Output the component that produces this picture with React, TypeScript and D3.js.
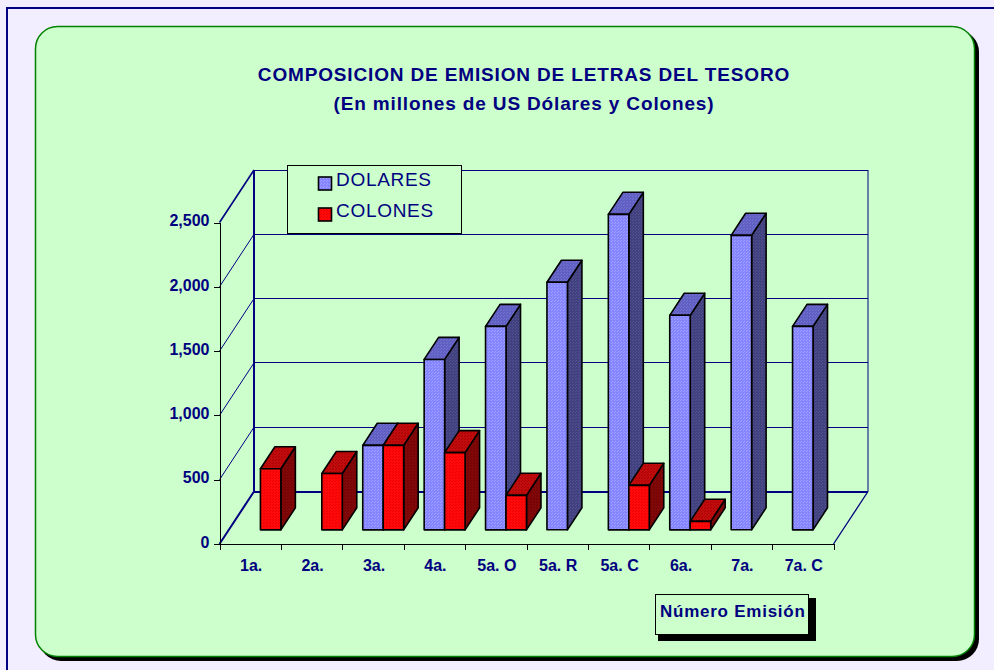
import React, { useEffect, useRef } from 'react';
import * as d3 from 'd3';

const categories = ['1a.', '2a.', '3a.', '4a.', '5a. O', '5a. R', '5a. C', '6a.', '7a.', '7a. C'];
const dolares = [null, null, 657, 1325, 1582, 1925, 2453, 1668, 2290, 1582];
const colones = [475, 438, 657, 600, 268, null, 346, 66, null, null];
const yTicks = [0, 500, 1000, 1500, 2000, 2500];

const NAVY = '#000080';
const PANEL = '#ccffcc';
const FONT = '"Liberation Sans", Arial, sans-serif';

export default function App() {
  const chartRef = useRef<SVGSVGElement>(null);

  useEffect(() => {
    const svg = d3.select(chartRef.current);
    svg.selectAll('*').remove();

    // front face of the plot box and the shift of its back wall
    const left = 219.5;
    const right = 833.5;
    const floorY = 544;
    const topY = 222.5;
    const depthX = 34.5;
    const depthY = -52.5;

    const x = d3.scaleBand<string>().domain(categories).range([left, right]).paddingInner(0).paddingOuter(0);
    const edge = d3.scaleLinear().domain([0, categories.length]).range([left, right]);
    const y = d3.scaleLinear().domain([0, 2500]).range([floorY, topY]);
    const series = d3.scaleBand<string>().domain(['d', 'c']).range([0, x.bandwidth()]).paddingOuter(0.5).paddingInner(0);

    const defs = svg.append('defs');
    const pattern = (id: string, base: string, dot: string) => {
      const p = defs.append('pattern').attr('id', id).attr('width', 3).attr('height', 3).attr('patternUnits', 'userSpaceOnUse');
      p.append('rect').attr('width', 3).attr('height', 3).attr('fill', base);
      p.append('rect').attr('x', 0).attr('y', 0).attr('width', 1).attr('height', 1).attr('fill', dot);
      p.append('rect').attr('x', 2).attr('y', 1).attr('width', 1).attr('height', 1).attr('fill', dot);
    };
    pattern('blueFront', '#8585ff', '#a3a3ff');
    pattern('blueTop', '#5f5fc4', '#7474cc');
    pattern('blueSide', '#41417f', '#525290');
    pattern('redFront', '#ff0a0a', '#e80000');
    pattern('redTop', '#c00c0c', '#a80000');
    pattern('redSide', '#800808', '#700000');

    // page and panel
    svg.append('rect').attr('width', 994).attr('height', 670).attr('fill', '#f2eeff');
    svg.append('rect').attr('x', 7).attr('y', 8).attr('width', 1000).attr('height', 700)
      .attr('fill', 'none').attr('stroke', NAVY).attr('stroke-width', 2);
    svg.append('rect').attr('x', 39).attr('y', 30).attr('width', 940).attr('height', 631).attr('rx', 22).attr('fill', '#000');
    svg.append('rect').attr('x', 35.5).attr('y', 26.5).attr('width', 939).attr('height', 630).attr('rx', 22)
      .attr('fill', PANEL).attr('stroke', '#008000').attr('stroke-width', 1.5);

    // titles
    const title = (txt: string, yy: number) =>
      svg.append('text').attr('x', 524).attr('y', yy).attr('text-anchor', 'middle')
        .attr('font-family', FONT).attr('font-size', 19).attr('font-weight', 700)
        .attr('letter-spacing', 0.85).attr('fill', NAVY).text(txt);
    title('COMPOSICION DE EMISION DE LETRAS DEL TESORO', 81);
    title('(En millones de US Dólares y Colones)', 110);

    // walls
    const grid = svg.append('g').attr('fill', 'none').attr('stroke', NAVY);
    yTicks.forEach((t) => {
      grid.append('line').attr('x1', left + depthX).attr('x2', right + depthX)
        .attr('y1', y(t) + depthY).attr('y2', y(t) + depthY)
        .attr('stroke-width', t === 0 ? 2 : 1).attr('shape-rendering', 'crispEdges');
      if (t > 0) {
        grid.append('line').attr('x1', left).attr('x2', left + depthX)
          .attr('y1', y(t)).attr('y2', y(t) + depthY).attr('stroke-width', t === 2500 ? 1.6 : 1);
      }
    });
    grid.append('line').attr('x1', left + depthX).attr('x2', left + depthX)
      .attr('y1', y(2500) + depthY).attr('y2', y(0) + depthY).attr('stroke-width', 2);
    grid.append('line').attr('x1', right + depthX).attr('x2', right + depthX)
      .attr('y1', y(2500) + depthY).attr('y2', y(0) + depthY);
    grid.append('line').attr('x1', left).attr('x2', left + depthX)
      .attr('y1', y(0)).attr('y2', y(0) + depthY).attr('stroke-width', 2);
    grid.append('line').attr('x1', right).attr('x2', right + depthX)
      .attr('y1', y(0)).attr('y2', y(0) + depthY).attr('stroke-width', 1.3);

    // axes
    const yAxis = svg.append('g').attr('transform', `translate(${left},0)`)
      .call(d3.axisLeft(y).tickValues(yTicks).tickFormat(d3.format(',') as any).tickSize(6).tickPadding(4).tickSizeOuter(0));
    yAxis.selectAll('path,line').attr('stroke', '#000').attr('shape-rendering', 'crispEdges');
    yAxis.selectAll('text').attr('font-family', FONT).attr('font-size', 16).attr('font-weight', 700)
      .attr('fill', NAVY).attr('dy', '0.2em');

    const xTicks = svg.append('g').attr('transform', `translate(0,${floorY})`)
      .call(d3.axisBottom(edge).tickValues(d3.range(0, categories.length + 1)).tickFormat(() => '').tickSize(6).tickSizeOuter(0));
    xTicks.selectAll('path,line').attr('stroke', '#000').attr('shape-rendering', 'crispEdges');

    const xLabels = svg.append('g').attr('transform', `translate(1,${floorY})`)
      .call(d3.axisBottom(x).tickSize(0).tickPadding(16));
    xLabels.select('path').remove();
    xLabels.selectAll('text').attr('font-family', FONT).attr('font-size', 16).attr('font-weight', 700).attr('fill', NAVY);

    // bars, back to front
    const depthStart = 0.27;
    const depthEnd = 0.69;
    const bar3d = (px: number, w: number, v: number, front: string, top: string, side: string, g: any) => {
      const x0 = px + depthX * depthStart + 0.9;
      const base = y(0) + depthY * depthStart;
      const yTop = base - (y(0) - y(v));
      const dx = depthX * (depthEnd - depthStart);
      const dy = depthY * (depthEnd - depthStart);
      const pts = (p: number[][]) => p.map((d) => d.join(',')).join(' ');
      g.append('polygon').attr('points', pts([[x0 + w, base], [x0 + w + dx, base + dy], [x0 + w + dx, yTop + dy], [x0 + w, yTop]])).attr('fill', `url(#${side})`);
      g.append('polygon').attr('points', pts([[x0, yTop], [x0 + dx, yTop + dy], [x0 + w + dx, yTop + dy], [x0 + w, yTop]])).attr('fill', `url(#${top})`);
      g.append('rect').attr('x', x0).attr('y', yTop).attr('width', w).attr('height', base - yTop).attr('fill', `url(#${front})`);
    };
    const bars = svg.append('g').attr('stroke', '#000').attr('stroke-width', 1.6).attr('stroke-linejoin', 'round');
    categories.forEach((c, i) => {
      const d = dolares[i];
      const k = colones[i];
      if (d != null) bar3d(x(c)! + series('d')!, series.bandwidth(), d, 'blueFront', 'blueTop', 'blueSide', bars);
      if (k != null) bar3d(x(c)! + series('c')!, series.bandwidth(), k, 'redFront', 'redTop', 'redSide', bars);
    });

    // legend
    const legend = svg.append('g');
    legend.append('rect').attr('x', 287.5).attr('y', 165.5).attr('width', 174).attr('height', 68)
      .attr('fill', PANEL).attr('stroke', '#000').attr('stroke-width', 1).attr('shape-rendering', 'crispEdges');
    const legendRow = (label: string, fill: string, yy: number) => {
      legend.append('rect').attr('x', 318.5).attr('y', yy).attr('width', 13).attr('height', 13)
        .attr('fill', fill).attr('stroke', '#000').attr('stroke-width', 1.6);
      legend.append('text').attr('x', 336).attr('y', yy + 9).attr('font-family', FONT).attr('font-size', 19)
        .attr('letter-spacing', 0.7).attr('fill', NAVY).text(label);
    };
    legendRow('DOLARES', 'url(#blueFront)', 177);
    legendRow('COLONES', 'url(#redFront)', 208);

    // axis name box
    svg.append('rect').attr('x', 658).attr('y', 598).attr('width', 158).attr('height', 43).attr('fill', '#000');
    svg.append('rect').attr('x', 655.5).attr('y', 594.5).attr('width', 153).attr('height', 40)
      .attr('fill', PANEL).attr('stroke', '#000').attr('shape-rendering', 'crispEdges');
    svg.append('text').attr('x', 660).attr('y', 617).attr('font-family', FONT).attr('font-size', 17)
      .attr('font-weight', 700).attr('letter-spacing', 0.75).attr('fill', NAVY).text('Número Emisión');
  }, []);

  return <svg ref={chartRef} width={994} height={670} style={{ position: 'absolute', left: 0, top: 0 }} />;
}
